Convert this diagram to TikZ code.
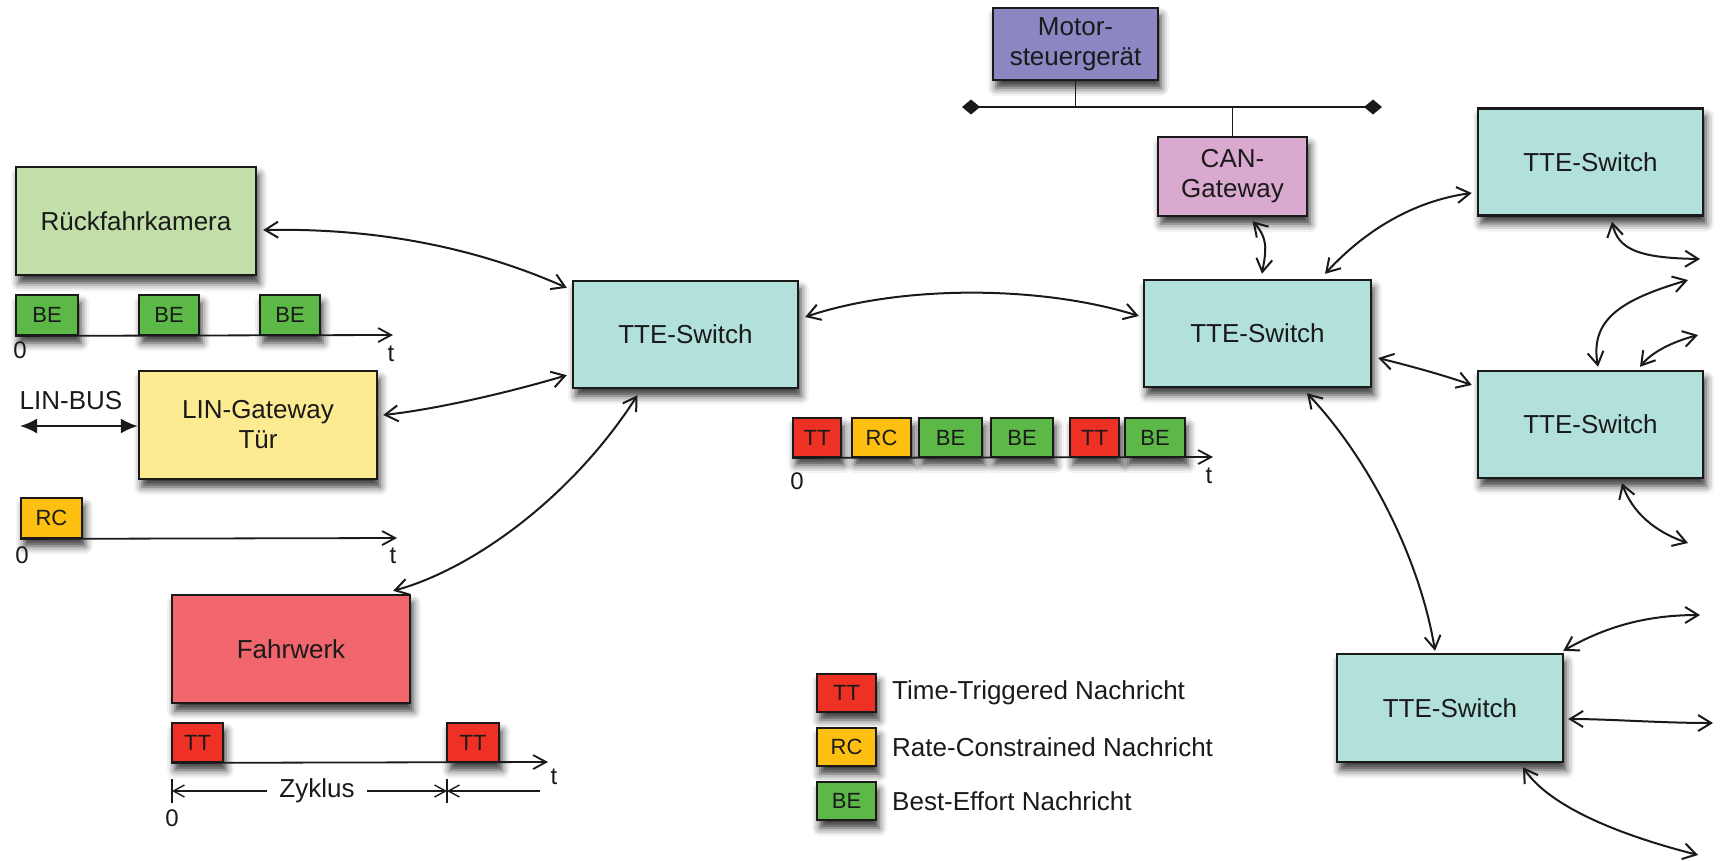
\documentclass[tikz,border=0pt]{standalone}
\usepackage{fontspec}
\setmainfont{Liberation Sans}
\usetikzlibrary{arrows.meta,shadows.blur,calc}
\definecolor{camgreen}{HTML}{C2DFA9}
\definecolor{linyellow}{HTML}{FCEB91}
\definecolor{fahrred}{HTML}{F0666C}
\definecolor{ttecyan}{HTML}{B2E0DB}
\definecolor{motorblue}{HTML}{8A87C3}
\definecolor{canpink}{HTML}{DAA9CF}
\definecolor{ttred}{HTML}{EE3124}
\definecolor{rcorange}{HTML}{FDC010}
\definecolor{begreen}{HTML}{5CB947}
\definecolor{ink}{HTML}{1A1A1A}
\tikzset{
  shd/.style={blur shadow={shadow xshift=3pt,shadow yshift=-8pt,shadow blur radius=8pt,shadow opacity=80}},
  box/.style={draw=ink,line width=2.4pt,align=center,text=ink,inner sep=0pt,font=\fontsize{26}{30}\selectfont,shd},
  msg/.style={draw=ink,line width=1.8pt,inner sep=0pt,text=ink,font=\fontsize{22}{24}\selectfont,shd},
  conn/.style={draw=ink,line width=2pt,{Straight Barb[length=13pt,width=16pt]}-{Straight Barb[length=13pt,width=16pt]}},
  axis/.style={draw=ink,line width=1.8pt,-{Straight Barb[length=13pt,width=14pt]}},
  dimline/.style={draw=ink,line width=1.4pt},
  dimtip/.tip={Straight Barb[length=11pt,width=12pt]},
  lbl/.style={text=ink,inner sep=0pt,font=\fontsize{24}{26}\selectfont},
  legtext/.style={text=ink,inner sep=0pt,anchor=west,font=\fontsize{26}{28}\selectfont},
  switchbox/.style={box,fill=ttecyan,minimum width=225pt,minimum height=107pt},
  ttbox/.style={msg,fill=ttred},
  rcbox/.style={msg,fill=rcorange},
  bebox/.style={msg,fill=begreen},
}
\begin{document}
\begin{tikzpicture}[x=1pt,y=-1pt]
\useasboundingbox (0,0) rectangle (1720,860);

% main boxes
\node[box,fill=camgreen,minimum width=240pt,minimum height=108pt] (kam) at (136,221) {Rückfahrkamera};
\node[box,fill=linyellow,minimum width=238pt,minimum height=108pt] (lin) at (258,425) {LIN-Gateway\\Tür};
\node[box,fill=fahrred,minimum width=238pt,minimum height=108pt] (fahr) at (291,649) {Fahrwerk};
\node[switchbox] (swL) at (685.5,334.5) {TTE-Switch};
\node[switchbox,minimum width=227pt] (swC) at (1257.5,333.5) {TTE-Switch};
\node[switchbox] (swTR) at (1590.5,162) {TTE-Switch};
\node[switchbox] (swMR) at (1590.5,424.5) {TTE-Switch};
\node[switchbox,minimum width=226pt,minimum height=108pt] (swBR) at (1450,708) {TTE-Switch};
\node[box,fill=motorblue,minimum width=165pt,minimum height=72pt] (motor) at (1075.5,44) {Motor-\\steuergerät};
\node[box,fill=canpink,minimum width=149pt,minimum height=79pt] (can) at (1232.5,176.5) {CAN-\\Gateway};

% CAN bus
\coordinate (busL) at (962,107);
\coordinate (busR) at (1382,107);
\draw[draw=ink,line width=1.8pt,{Diamond[length=18pt,width=15pt]}-{Diamond[length=18pt,width=15pt]}] (busL) -- (busR);
\draw[draw=ink,line width=1.8pt] (motor.south) -- (motor.south |- busL);
\draw[draw=ink,line width=1.8pt] (can.north) -- (can.north |- busL);

% row 1: BE messages
\node[bebox,minimum width=62pt,minimum height=40pt] (be1) at (47,315) {BE};
\node[bebox,minimum width=60pt,minimum height=40pt] (be2) at (169,315) {BE};
\node[bebox,minimum width=60pt,minimum height=40pt] (be3) at (290,315) {BE};
\coordinate (t1end) at (393,335);
\draw[axis] (be1.south west) -- (t1end);
\node[lbl] (z1lbl) at (20,350) {0};
\node[lbl] (t1lbl) at (391,354) {t};

% LIN-BUS
\node[text=ink,inner sep=0pt,font=\fontsize{26}{28}\selectfont] (linbus) at (71,401) {LIN-BUS};
\coordinate (lbL) at (20,426);
\draw[draw=ink,line width=2pt,{Latex[length=17pt,width=15pt]}-{Latex[length=17pt,width=15pt]}] (lbL) -- (lbL -| lin.west);

% row 2: RC message
\node[rcbox,minimum width=61pt,minimum height=40pt] (rc1) at (51.5,518) {RC};
\coordinate (t2end) at (397,538);
\draw[axis] (rc1.south west) -- (t2end);
\node[lbl] (z2lbl) at (22,555) {0};
\node[lbl] (t2lbl) at (393,556) {t};

% row 3: TT messages
\node[ttbox,minimum width=51pt,minimum height=39pt] (tt1) at (197.5,742.5) {TT};
\node[ttbox,minimum width=52pt,minimum height=39pt] (tt2) at (473,742.5) {TT};
\coordinate (t3end) at (548,762);
\draw[axis] (tt1.south west) -- (t3end);
\node[lbl] (z3lbl) at (172,818) {0};
\node[lbl] (t3lbl) at (554,777) {t};

% Zyklus dimension
\coordinate (zy0) at (172,791);
\coordinate (zy1) at (447,791);
\coordinate (zy2) at (540,791);
\draw[dimline] ($(zy0)+(0,-12)$) -- ($(zy0)+(0,12)$);
\draw[dimline] ($(zy1)+(0,-12)$) -- ($(zy1)+(0,12)$);
\node[text=ink,inner xsep=12pt,inner ysep=0pt,font=\fontsize{26}{28}\selectfont] (zyk) at (317,791) {Zyklus};
\draw[dimline,{dimtip}-] (zy0) -- (zyk.west);
\draw[dimline,-{dimtip}] (zyk.east) -- (zy1);
\draw[dimline,{dimtip}-] (zy1) -- (zy2);

% message strip
\node[ttbox,minimum width=48pt,minimum height=39pt] (s1) at (817,437.5) {TT};
\node[rcbox,minimum width=59pt,minimum height=39pt] (s2) at (881.5,437.5) {RC};
\node[bebox,minimum width=63pt,minimum height=39pt] (s3) at (950.5,437.5) {BE};
\node[bebox,minimum width=62pt,minimum height=39pt] (s4) at (1022,437.5) {BE};
\node[ttbox,minimum width=49pt,minimum height=39pt] (s5) at (1094.5,437.5) {TT};
\node[bebox,minimum width=60pt,minimum height=39pt] (s6) at (1155,437.5) {BE};
\coordinate (t4end) at (1213,457);
\draw[axis] (s1.south west) -- (t4end);
\node[lbl] (z4lbl) at (797,481) {0};
\node[lbl] (t4lbl) at (1209,476) {t};

% legend
\node[ttbox,minimum width=59pt,minimum height=38pt] (lg1) at (846.5,693) {TT};
\node[rcbox,minimum width=59pt,minimum height=38pt] (lg2) at (846.5,747) {RC};
\node[bebox,minimum width=59pt,minimum height=38pt] (lg3) at (846.5,801) {BE};
\node[legtext] (lt1) at (892,693) {Time-Triggered Nachricht};
\node[legtext] (lt2) at (892,747) {Rate-Constrained Nachricht};
\node[legtext] (lt3) at (892,801) {Best-Effort Nachricht};

% connectors
\draw[conn] ($(kam.east)+(6,9)$) .. controls (370,228) and (470,245) .. ($(swL.north west)+(-5,8)$);
\draw[conn] ($(lin.east)+(5,-10)$) .. controls (430,410) and (500,395) .. ($(swL.south west)+(-5,-14)$);
\draw[conn] ($(fahr.north east)+(-18,-3)$) .. controls (470,570) and (570,500) .. ($(swL.south)+(-48,6)$);
\draw[conn] ($(swL.east)+(6,-17.5)$) .. controls (900,285) and (1040,285) .. ($(swC.west)+(-4,-17.5)$);
\draw[conn] ($(can.south)+(20,4)$) .. controls (1270,240) and (1265,255) .. ($(swC.north)+(4.5,-5)$);
\draw[conn] ($(swC.north)+(67.5,-5)$) .. controls (1370,225) and (1420,200) .. ($(swTR.west)+(-5,31)$);
\draw[conn] ($(swC.east)+(6,24.5)$) .. controls (1410,366) and (1440,374) .. ($(swMR.west)+(-5,-39.5)$);
\draw[conn] ($(swC.south)+(49.5,5)$) .. controls (1370,460) and (1420,560) .. ($(swBR.north)+(-15,-2)$);

\coordinate (fe1) at (1700,259);
\coordinate (fe2) at (1688,280);
\coordinate (fe3) at (1698,335);
\coordinate (fe4) at (1688,543);
\coordinate (fe5) at (1700,615);
\coordinate (fe6) at (1713,723);
\coordinate (fe7) at (1698,855);
\draw[conn] ($(swTR.south)+(21.5,5)$) .. controls (1618,250) and (1640,258) .. (fe1);
\draw[conn] ($(swMR.north)+(7.5,-3)$) .. controls (1590,320) and (1620,300) .. (fe2);
\draw[conn] ($(swMR.north)+(49.5,-3)$) .. controls (1652,352) and (1672,342) .. (fe3);
\draw[conn] ($(swMR.south)+(31.5,4)$) .. controls (1632,512) and (1655,532) .. (fe4);
\draw[conn] ($(swBR.north east)+(-1,-2)$) .. controls (1600,630) and (1640,615) .. (fe5);
\draw[conn] ($(swBR.east)+(4,11)$) .. controls (1610,719) and (1660,723) .. (fe6);
\draw[conn] ($(swBR.south)+(73,4)$) .. controls (1545,800) and (1600,830) .. (fe7);
\end{tikzpicture}
\end{document}
